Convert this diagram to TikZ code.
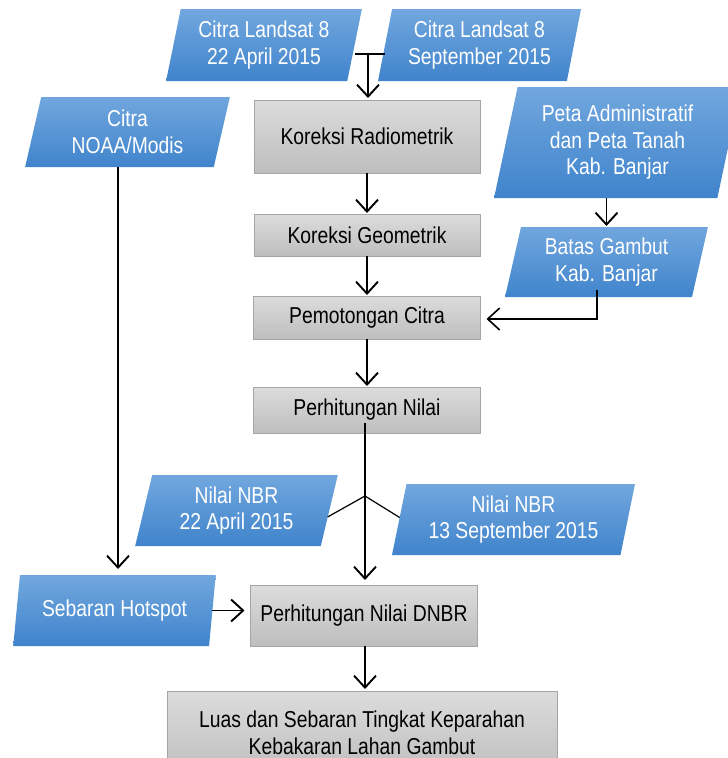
\documentclass[tikz,border=0pt]{standalone}
\usepackage{fontspec}
\setmainfont{Liberation Sans}[FakeStretch=0.84]
\usetikzlibrary{shapes.geometric,arrows.meta,calc}
\definecolor{bluetop}{RGB}{113,167,222}
\definecolor{bluebot}{RGB}{64,132,204}
\definecolor{graytop}{RGB}{220,220,220}
\definecolor{graybot}{RGB}{190,190,190}
\definecolor{grayline}{RGB}{165,165,165}
\begin{document}
\begin{tikzpicture}[x=1pt,y=-1pt,
 every node/.style={font=\fontsize{23pt}{26.5pt}\selectfont, align=center, inner sep=0pt, outer sep=0pt},
 data/.style={trapezium, trapezium left angle=76.5, trapezium right angle=103.5, trapezium stretches=true, top color=bluetop, bottom color=bluebot, text=white},
 proc/.style={rectangle, top color=graytop, bottom color=graybot, draw=grayline, line width=0.8pt, text=black},
 arr/.style={line width=1.9pt, -{Straight Barb[length=12pt,width=22pt]}},
 thinl/.style={line width=1.2pt}
]
\useasboundingbox (0,0) rectangle (728,758);
% data (parallelogram) nodes
\node[data, minimum width=196pt, minimum height=72pt] (l1) at (264,45) {Citra Landsat 8\\22 April 2015};
\node[data, minimum width=203pt, minimum height=72pt] (l2) at (479.5,45) {Citra Landsat 8\\September 2015};
\node[data, minimum width=205pt, minimum height=70pt] (noaa) at (127.5,132) {Citra\\NOAA/Modis};
\node[data, minimum width=247pt, minimum height=111pt] (peta) at (617.5,142.5) {Peta Administratif\\dan Peta Tanah\\Kab. Banjar};
\node[data, minimum width=203pt, minimum height=70pt] (batas) at (606.5,262) {Batas Gambut\\Kab. Banjar};
\node[data, minimum width=203pt, minimum height=71pt] (nbr1) at (236.5,510.5) {Nilai NBR\\22 April 2015};
\node[data, minimum width=243pt, minimum height=71pt] (nbr2) at (513.5,519.5) {Nilai NBR\\13 September 2015};
\node[data, minimum width=203pt, minimum height=71pt] (hot) at (114.5,610.5) {Sebaran Hotspot};
% process nodes
\node[proc, minimum width=226pt, minimum height=73pt] (rad) at (367,136.5) {Koreksi Radiometrik};
\node[proc, minimum width=226pt, minimum height=42pt] (geo) at (367,235) {Koreksi Geometrik};
\node[proc, minimum width=227pt, minimum height=43pt] (pot) at (367,317.5) {Pemotongan Citra};
\node[proc, minimum width=227pt, minimum height=46pt] (nil) at (367,410) {Perhitungan Nilai};
\node[proc, minimum width=227pt, minimum height=61pt] (dnbr) at (364,615.5) {Perhitungan Nilai DNBR};
\node[proc, minimum width=390pt, minimum height=84pt] (luas) at (362,733) {Luas dan Sebaran Tingkat Keparahan\\Kebakaran Lahan Gambut};
% helper coordinates
\coordinate (j1) at (368,54);
\coordinate (j2) at (365,496);
\coordinate (c5) at (597,319);
\coordinate (c8) at (118,0);
% connectors
\draw[thinl] (j1 -| l1.east) -- (j1 -| l2.west);
\draw[arr, shorten >=2pt] (j1) -- (j1 |- rad.north);
\draw[arr, shorten >=1pt] (rad.south) -- (geo.north);
\draw[arr, shorten >=1pt] (geo.south) -- (pot.north);
\draw[arr, shorten >=1pt] (pot.south) -- (nil.north);
\draw[arr, shorten >=1pt] (batas.north |- peta.south) -- (batas.north);
\draw[line width=1.6pt, -{Straight Barb[length=12pt,width=22pt]}, shorten >=6pt] ($(c5 |- batas.south)+(0,-7)$) -- (c5) -- (c5 -| pot.east);
\draw[thinl] ($(j2 |- nil.south)+(0,-10)$) -- (j2);
\draw[thinl] (j2) -- (nbr1.-4);
\draw[thinl] (j2) -- (nbr2.179);
\draw[arr, shorten >=5pt] (j2) -- (j2 |- dnbr.north);
\draw[arr, shorten >=6pt] (c8 |- noaa.south) -- (c8 |- hot.north);
\draw[arr, shorten >=6pt] (hot.east) -- (hot.east -| dnbr.west);
\draw[arr, shorten >=2pt] (dnbr.south -| j2) -- (j2 |- luas.north);
\end{tikzpicture}
\end{document}
